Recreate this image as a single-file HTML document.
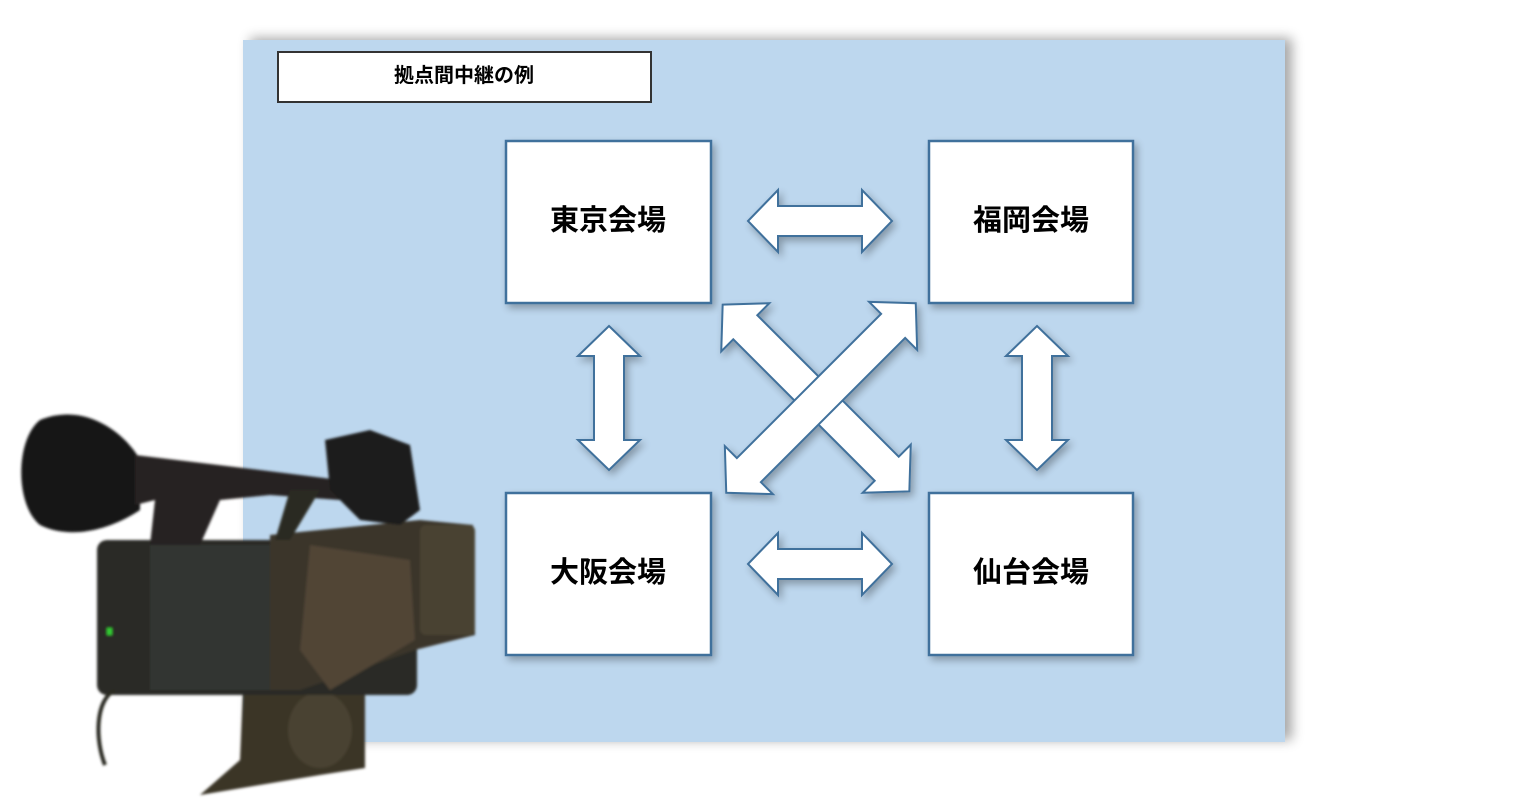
<!DOCTYPE html>
<html><head><meta charset="utf-8"><style>
html,body{margin:0;padding:0;background:#fff;width:1524px;height:798px;overflow:hidden}
svg{display:block}
text{font-family:"Liberation Sans","Noto Sans CJK JP",sans-serif;font-weight:bold}
</style></head><body>
<svg width="1524" height="798" viewBox="0 0 1524 798">
<defs>
<filter id="sh" x="-10%" y="-10%" width="130%" height="130%"><feGaussianBlur in="SourceAlpha" stdDeviation="6"/><feOffset dx="7" dy="-2"/><feComponentTransfer><feFuncA type="linear" slope="0.35"/></feComponentTransfer><feMerge><feMergeNode/><feMergeNode in="SourceGraphic"/></feMerge></filter>
<filter id="sh2" x="-20%" y="-20%" width="140%" height="140%"><feGaussianBlur in="SourceAlpha" stdDeviation="4"/><feOffset dx="3" dy="4"/><feComponentTransfer><feFuncA type="linear" slope="0.3"/></feComponentTransfer><feMerge><feMergeNode/><feMergeNode in="SourceGraphic"/></feMerge></filter>
<filter id="bl"><feGaussianBlur stdDeviation="1.2"/></filter>
</defs>
<rect x="243" y="40" width="1042" height="702" fill="#BDD7EE" filter="url(#sh)"/>
<rect x="278" y="52" width="373" height="50" fill="#fff" stroke="#333" stroke-width="2"/>
<text x="464" y="82" font-size="20" text-anchor="middle">拠点間中継の例</text>
<g fill="#fff" stroke="#41719C" stroke-width="2.5" filter="url(#sh2)">
<rect x="506" y="141" width="205" height="162"/>
<rect x="929" y="141" width="204" height="162"/>
<rect x="506" y="493" width="205" height="162"/>
<rect x="929" y="493" width="204" height="162"/>
</g>
<g font-size="29" text-anchor="middle">
<text x="608" y="230">東京会場</text>
<text x="1031" y="230">福岡会場</text>
<text x="608" y="582">大阪会場</text>
<text x="1031" y="582">仙台会場</text>
</g>
<g fill="#fff" stroke="#41719C" stroke-width="2" filter="url(#sh2)">
<polygon transform="translate(820,221)" points="-72,0 -42,-31 -42,-15 42,-15 42,-31 72,0 42,31 42,15 -42,15 -42,31"/>
<polygon transform="translate(820,564)" points="-72,0 -42,-31 -42,-15 42,-15 42,-31 72,0 42,31 42,15 -42,15 -42,31"/>
<polygon transform="translate(609,398) rotate(90)" points="-72,0 -42,-31 -42,-15 42,-15 42,-31 72,0 42,31 42,15 -42,15 -42,31"/>
<polygon transform="translate(1037,398) rotate(90)" points="-72,0 -42,-31 -42,-15 42,-15 42,-31 72,0 42,31 42,15 -42,15 -42,31"/>
<polygon transform="translate(816,398) rotate(45)" points="-132,0 -100,-34 -100,-17 100,-17 100,-34 132,0 100,34 100,17 -100,17 -100,34"/>
<polygon transform="translate(821,398) rotate(-45)" points="-134,0 -102,-34 -102,-17 102,-17 102,-34 134,0 102,34 102,17 -102,17 -102,34"/>
</g>
<g filter="url(#bl)">
<polygon points="243,690 365,690 365,768 320,775 200,795 240,760" fill="#3b3428"/>
<ellipse cx="320" cy="730" rx="32" ry="38" fill="#4a4232"/>
<rect x="97" y="540" width="320" height="155" rx="10" fill="#2c2c26"/>
<rect x="150" y="545" width="120" height="145" fill="#333530"/>
<polygon points="270,535 420,520 473,525 475,635 415,650 300,690 270,690" fill="#3a352b"/>
<rect x="420" y="525" width="55" height="110" rx="6" fill="#4a4232"/>
<polygon points="310,545 410,560 415,640 330,690 300,650" fill="#514536"/>
<path d="M40,420 C90,400 130,440 140,460 L140,510 C110,530 70,540 40,525 C15,505 15,440 40,420Z" fill="#121212"/>
<polygon points="135,455 260,470 340,480 340,500 270,495 220,500 200,545 150,545 155,500 135,505" fill="#252420"/>
<polygon points="325,440 370,430 410,445 420,510 400,525 360,520 330,490" fill="#1e1e1b"/>
<polygon points="290,490 320,490 290,540 275,540" fill="#2a2a24"/>
<path d="M115,690 C95,700 95,740 105,765" stroke="#2a2a24" stroke-width="4" fill="none"/>
<rect x="107" y="628" width="5" height="7" fill="#3c3"/>
</g>
</svg>
</body></html>
